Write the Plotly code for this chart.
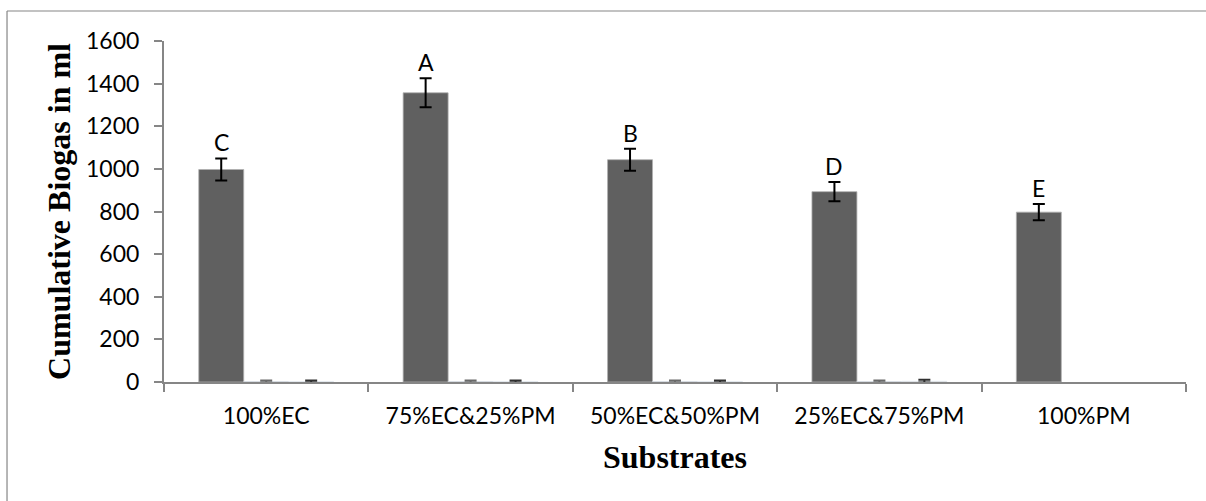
import plotly.graph_objects as go

categories = ["100%EC", "75%EC&25%PM", "50%EC&50%PM", "25%EC&75%PM", "100%PM"]
biogas = [997, 1357, 1043, 893, 797]
biogas_err = [52, 68, 52, 45, 38]
letters = ["C", "A", "B", "D", "E"]
series2 = [2, 2, 2, 2, None]
series2_err = [5, 5, 5, 5, 0]
series3 = [2, 2, 2, 4, None]
series3_err = [5, 5, 5, 6, 0]

BAR = "#606060"
AX = "#868686"
TICKFONT = dict(family="Lato", size=23, color="black")
TITLEFONT = dict(family="Liberation Serif", size=32, color="black")

fig = go.Figure()
fig.add_trace(go.Bar(
    x=categories, y=biogas, marker=dict(color=BAR, line=dict(color="#b0b0b0", width=0.8)),
    error_y=dict(type="data", array=biogas_err, color="black", thickness=2, width=6),
    showlegend=False))
fig.add_trace(go.Bar(
    x=categories, y=series2, marker=dict(color="#8a8a8a"),
    error_y=dict(type="data", array=series2_err, color="#6a6a6a", thickness=2, width=6),
    showlegend=False))
fig.add_trace(go.Bar(
    x=categories, y=series3, marker=dict(color="#c8c8c8"),
    error_y=dict(type="data", array=series3_err, color="#303030", thickness=2, width=6),
    showlegend=False))

for c, v, e, t in zip(categories, biogas, biogas_err, letters):
    fig.add_annotation(x=c, y=v + e, text=t, showarrow=False, xshift=-45,
                       yanchor="bottom", yshift=0, font=TICKFONT)

# outer frame: only top and left edges are inside the picture
fig.add_shape(type="line", xref="paper", yref="paper", x0=-0.1536, x1=1.1,
              y0=1.088, y1=1.088, line=dict(color=AX, width=1.2), layer="below")
fig.add_shape(type="line", xref="paper", yref="paper", x0=-0.1536, x1=-0.1536,
              y0=-0.4, y1=1.088, line=dict(color=AX, width=1.2), layer="below")

fig.update_layout(
    width=1206, height=501,
    margin=dict(l=164, r=20, t=41, b=119),
    paper_bgcolor="white", plot_bgcolor="white",
    barmode="group", bargap=0.34, bargroupgap=0,
    xaxis=dict(
        showline=True, linecolor=AX, linewidth=2, ticks="outside", tickson="boundaries",
        ticklen=8, tickcolor=AX, tickwidth=2, tickfont=TICKFONT, ticklabelstandoff=12,
        title=dict(text="<b>Substrates</b>", font=TITLEFONT, standoff=18),
    ),
    yaxis=dict(
        range=[0, 1600], dtick=200, showgrid=False, zeroline=False,
        showline=True, linecolor=AX, linewidth=2, ticks="outside", ticklen=8,
        tickcolor=AX, tickwidth=2, tickfont=TICKFONT, ticklabelstandoff=10,
        title=dict(text="<b>Cumulative Biogas in ml</b>", font=TITLEFONT, standoff=6),
    ),
)

fig.write_html("out.html", config={"displayModeBar": False},
               post_script="document.body.style.margin='0';document.body.style.overflow='hidden';")
